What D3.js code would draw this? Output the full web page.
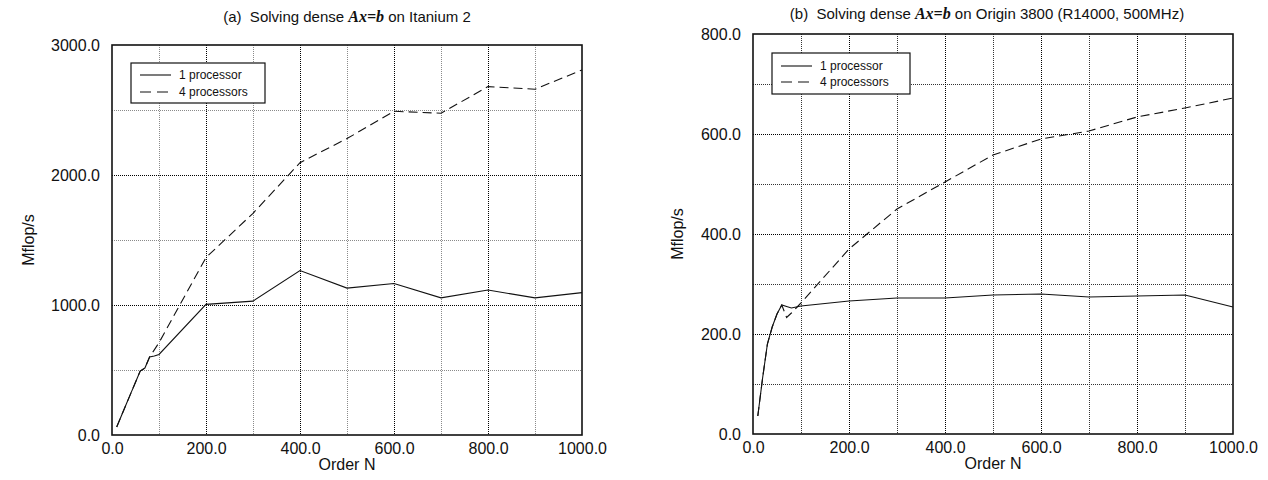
<!DOCTYPE html>
<html>
<head>
<meta charset="utf-8">
<script src="https://cdn.jsdelivr.net/npm/d3@7"></script>
<style>
  html, body { margin: 0; padding: 0; background: #fff; }
  svg { display: block; }
  text { font-family: "Liberation Sans", Arial, Helvetica, sans-serif; fill: #111; white-space: pre; }
</style>
</head>
<body>
<svg id="chart" width="1268" height="480"></svg>
<script>
// Matrix order N at which each run was timed
const orderN = [10, 20, 30, 40, 50, 60, 70, 80, 90, 100, 200, 300, 400, 500, 600, 700, 800, 900, 1000];

// (a) Itanium 2, Mflop/s
const itanium1 = [62, 148, 234, 320, 406, 492, 515, 600, 608, 620, 1005, 1030, 1265, 1130, 1165, 1055, 1115, 1055, 1095];
const itanium4 = [62, 148, 234, 320, 406, 492, 515, 600, 655, 710, 1365, 1705, 2095, 2280, 2490, 2475, 2680, 2660, 2808];

// (b) Origin 3800, Mflop/s
const origin1 = [36, 112, 180, 214, 240, 258, 255, 252, 254, 256, 266, 272, 272, 278, 280, 274, 276, 278, 254];
const origin4 = [36, 112, 180, 214, 240, 258, 233, 242, 252, 262, 370, 450, 504, 558, 590, 606, 634, 652, 672];

// Axis ticks
const xTicks = [0, 200, 400, 600, 800, 1000];
const xGrid = [100, 200, 300, 400, 500, 600, 700, 800, 900];
const yTicksA = [0, 1000, 2000, 3000];
const yGridA = [500, 1000, 1500, 2000, 2500];
const yTicksB = [0, 200, 400, 600, 800];
const yGridB = [100, 200, 300, 400, 500, 600, 700];

const seriesNames = ["1 processor", "4 processors"];
const DASH = "9,5";

const svg = d3.select("#chart");

function panel(cfg) {
  const g = svg.append("g");
  const x = d3.scaleLinear().domain([0, 1000]).range([cfg.left, cfg.right]);
  const y = d3.scaleLinear().domain([0, cfg.yMax]).range([cfg.bottom, cfg.top]);

  // grid
  const major = new Set(cfg.yTicks);
  g.selectAll(null).data(cfg.yGrid).enter().append("line")
    .attr("x1", cfg.left).attr("x2", cfg.right)
    .attr("y1", d => y(d) + 0.5).attr("y2", d => y(d) + 0.5)
    .attr("stroke", d => major.has(d) ? "#000" : cfg.minorColor)
    .attr("stroke-width", 1).attr("stroke-dasharray", "1,1");
  const majorX = new Set(xTicks);
  g.selectAll(null).data(xGrid).enter().append("line")
    .attr("y1", cfg.top).attr("y2", cfg.bottom)
    .attr("x1", d => Math.round(x(d)) + 0.5).attr("x2", d => Math.round(x(d)) + 0.5)
    .attr("stroke", d => majorX.has(d) ? "#000" : cfg.minorColor)
    .attr("stroke-width", 1).attr("stroke-dasharray", "1,1");

  // frame
  g.append("rect")
    .attr("x", cfg.left).attr("y", cfg.top)
    .attr("width", cfg.right - cfg.left).attr("height", cfg.bottom - cfg.top)
    .attr("fill", "none").attr("stroke", "#111").attr("stroke-width", 1.6);

  // axes (labels only)
  const fmt = d3.format(".1f");
  const xAxis = g.append("g").attr("transform", `translate(0,${cfg.bottom})`)
    .call(d3.axisBottom(x).tickValues(xTicks).tickFormat(fmt).tickSize(0).tickPadding(8));
  const yAxis = g.append("g").attr("transform", `translate(${cfg.left},0)`)
    .call(d3.axisLeft(y).tickValues(cfg.yTicks).tickFormat(fmt).tickSize(0).tickPadding(12));
  [xAxis, yAxis].forEach(a => {
    a.select(".domain").remove();
    a.selectAll("text").attr("font-size", 16)
      .attr("font-family", "'Liberation Sans', Arial, sans-serif").attr("fill", "#111");
  });

  // series
  const line = d3.line().x(d => x(d[0])).y(d => y(d[1]));
  const pts1 = orderN.map((n, i) => [n, cfg.s1[i]]);
  const pts4 = orderN.map((n, i) => [n, cfg.s4[i]]);
  g.append("path").datum(pts4).attr("d", line)
    .attr("fill", "none").attr("stroke", "#111").attr("stroke-width", 1.1)
    .attr("stroke-dasharray", DASH);
  g.append("path").datum(pts1).attr("d", line)
    .attr("fill", "none").attr("stroke", "#111").attr("stroke-width", 1.1);

  // legend
  const L = cfg.legend;
  const lg = g.append("g").attr("transform", `translate(${L.x},${L.y})`);
  lg.append("rect").attr("width", L.w).attr("height", L.h)
    .attr("fill", "#fff").attr("stroke", "#111").attr("stroke-width", 1.2);
  seriesNames.forEach((name, i) => {
    const yy = L.row0 + i * L.step;
    lg.append("line").attr("x1", 9).attr("x2", 40).attr("y1", yy).attr("y2", yy)
      .attr("stroke", "#111").attr("stroke-width", 1.1)
      .attr("stroke-dasharray", i === 1 ? "11,6" : null);
    lg.append("text").attr("x", 48).attr("y", yy).attr("dy", "0.35em")
      .attr("font-size", 12).text(name);
  });

  // title
  const t = g.append("text").attr("x", (cfg.left + cfg.right) / 2 + cfg.titleShift).attr("y", cfg.titleY)
    .attr("text-anchor", "middle").attr("font-size", 15);
  t.append("tspan").text(cfg.titlePre);
  t.append("tspan").attr("font-family", "'Liberation Serif', 'Times New Roman', serif")
    .attr("font-weight", "bold").attr("font-style", "italic").attr("font-size", 16).text("Ax=b");
  t.append("tspan").text(cfg.titlePost);

  // axis titles
  g.append("text").attr("x", (cfg.left + cfg.right) / 2).attr("y", cfg.bottom + 35)
    .attr("text-anchor", "middle").attr("font-size", 16).text("Order N");
  g.append("text")
    .attr("transform", `translate(${cfg.yLabelX},${(cfg.top + cfg.bottom) / 2}) rotate(-90)`)
    .attr("text-anchor", "middle").attr("dy", "0.35em").attr("font-size", 16).text("Mflop/s");
}

panel({
  left: 112, right: 582, top: 45, bottom: 435, yMax: 3000,
  yTicks: yTicksA, yGrid: yGridA, minorColor: "#8a8a8a",
  s1: itanium1, s4: itanium4,
  legend: { x: 131, y: 63, w: 134, h: 40, row0: 12, step: 17 },
  titleY: 22, titleShift: 0, titlePre: "(a)  Solving dense ", titlePost: " on Itanium 2",
  yLabelX: 28
});

panel({
  left: 753, right: 1233, top: 34, bottom: 434, yMax: 800,
  yTicks: yTicksB, yGrid: yGridB, minorColor: "#333",
  s1: origin1, s4: origin4,
  legend: { x: 772, y: 53, w: 138, h: 41, row0: 13, step: 16 },
  titleY: 19, titleShift: -6, titlePre: "(b)  Solving dense ", titlePost: " on Origin 3800 (R14000, 500MHz)",
  yLabelX: 677
});
</script>
</body>
</html>
